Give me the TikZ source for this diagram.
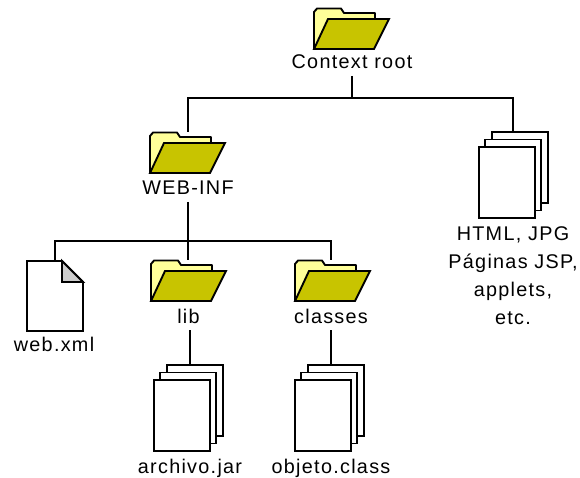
\documentclass[tikz,border=0pt]{standalone}
\usepackage{fontspec}
\setmainfont[LetterSpace=6.5]{Liberation Sans}
\definecolor{folderback}{HTML}{FFFF99}
\definecolor{folderfront}{HTML}{C8C400}
\definecolor{foldgrey}{HTML}{CCCCCC}
\tikzset{
  x=1pt,y=-1pt,
  wire/.style={line width=1.9pt,black},
  outline/.style={line width=1.9pt,black,line join=miter},
  lab/.style={anchor=base,inner sep=0pt,outer sep=0pt,text depth=7pt,font=\fontsize{19.8}{28}\selectfont},
  slot/.style={anchor=north west,inner sep=0pt,outer sep=0pt,minimum width=76pt,minimum height=41pt},
  sheet/.style={draw,fill=white,line width=1.9pt,anchor=north west,inner sep=0pt,outer sep=0pt,minimum width=56pt,minimum height=71pt},
}
\newcommand{\iconfolder}[3]{%
  \node[slot] (#1) at (#2,#3) {};
  \begin{scope}[shift={(#2,#3)}]
    \draw[outline,fill=folderback,line join=round] (0,41) -- (0,4) -- (3,0.5) -- (27,0.5) -- (30,5) -- (61,5) -- (61,14) -- (20,30) -- cycle;
    \draw[outline,fill=folderfront] (14,11) -- (75,11) -- (60,41) -- (0,41) -- cycle;
  \end{scope}}
\newcommand{\iconstack}[3]{%
  \node[sheet] (#1) at (#2,#3) {};
  \node[sheet] (#1m) at (#2-7,#3+7.5) {};
  \node[sheet] (#1f) at (#2-13,#3+15) {};}
\begin{document}
\begin{tikzpicture}
\useasboundingbox (0,0) rectangle (580,478);
% icons
\iconfolder{ctx}{314}{8}
\iconfolder{wi}{150}{132}
\iconfolder{lb}{151}{260}
\iconfolder{cl}{295}{260}
\iconstack{all}{492}{132}
\iconstack{jar}{167}{365}
\iconstack{obj}{308}{365}
% document
\node[anchor=north west,inner sep=0pt,outer sep=0pt,minimum width=56pt,minimum height=70pt] (xml) at (27,261) {};
\draw[outline,fill=white] (27,261) -- (62,261) -- (83,282) -- (83,331) -- (27,331) -- cycle;
\draw[outline,fill=foldgrey] (62,261) -- (83,282) -- (62,282) -- cycle;
% labels
\node[lab] (ctxl) at (352,69) {Context root};
\node[lab] (wil) at (188,195) {WEB-INF};
\node[lab] (lbl) at (188.5,323) {lib};
\node[lab] (cll) at (331,323) {classes};
\node[lab] (xmll) at (54,351) {web.xml};
\node[lab] (jarl) at (190,473) {archivo.jar};
\node[lab] (objl) at (331,473) {objeto.class};
\node[lab,anchor=north,align=center,text depth=0pt] (alll) at (513,226.5) {HTML, JPG\\Páginas JSP,\\applets,\\etc.};
% junctions
\coordinate (j1) at (ctxl.south |- 0,98);
\coordinate (j2) at (wil.south |- 0,241);
% connectors
\draw[wire] (ctxl.south) -- (j1);
\draw[wire] (j1) -| (wil.south |- wi.north);
\draw[wire] (j1) -| (alll.north |- all.north);
\draw[wire] (wil.south) -- (wil.south |- lb.north);
\draw[wire] (j2) -| (xml.north);
\draw[wire] (j2) -| (cll.south |- cl.north);
\draw[wire] (lbl.south -| jarl.base) -- (jarl.base |- jar.north);
\draw[wire] (cll.south) -- (cll.south |- obj.north);
\end{tikzpicture}
\end{document}
